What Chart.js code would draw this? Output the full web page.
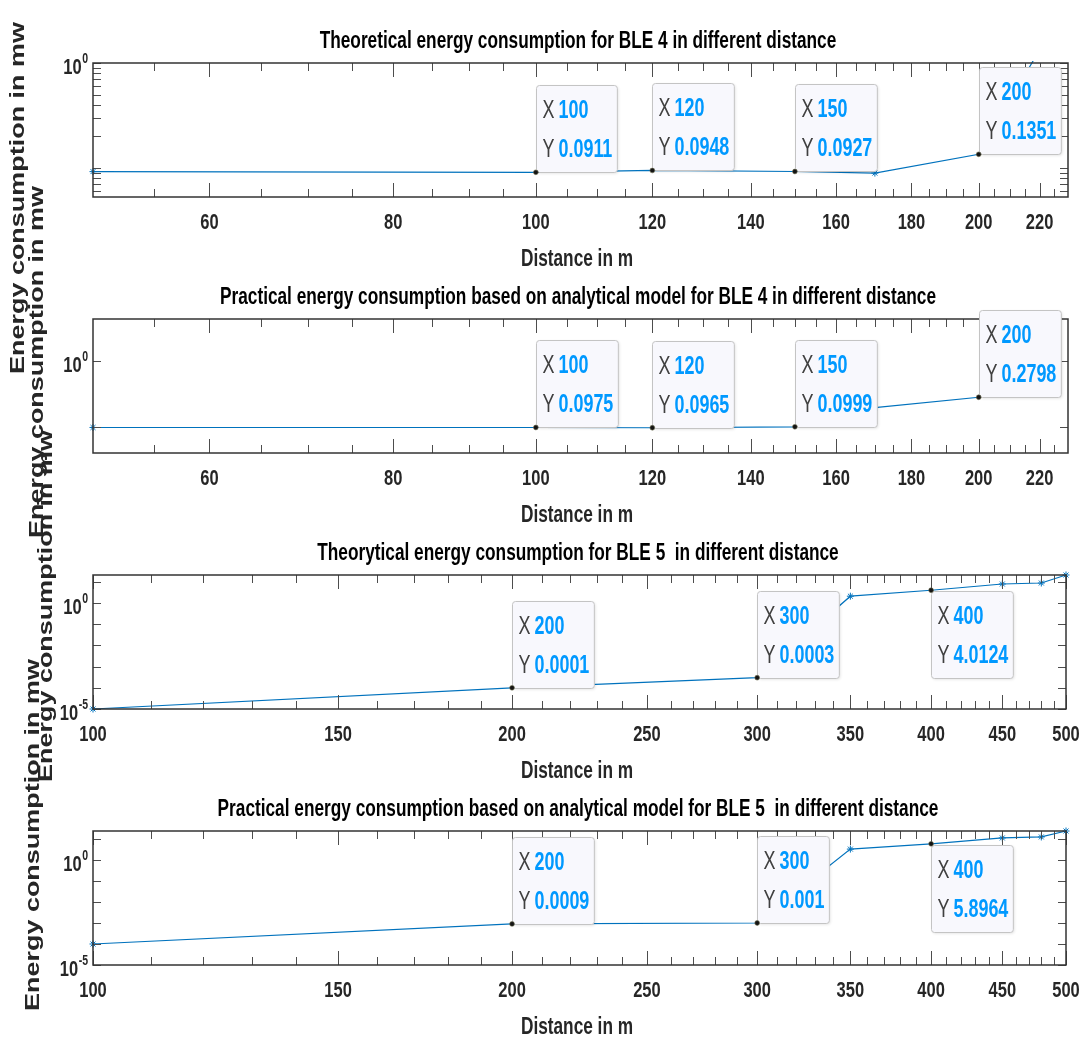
<!DOCTYPE html>
<html>
<head>
<meta charset="utf-8">
<title>BLE energy consumption versus distance</title>
<script src="https://cdn.jsdelivr.net/npm/chart.js@4.4.1/dist/chart.umd.min.js"></script>
<style>
  html, body { margin: 0; padding: 0; background: #ffffff; }
  #figure { position: relative; width: 1083px; height: 1040px; overflow: hidden; background: #ffffff; }
  #figure canvas { position: absolute; left: 0; top: 0; }
</style>
</head>
<body>
<div id="figure">
  <canvas id="ble4Theory" width="1083" height="1040"></canvas>
  <canvas id="ble4Practical" width="1083" height="1040"></canvas>
  <canvas id="ble5Theory" width="1083" height="1040"></canvas>
  <canvas id="ble5Practical" width="1083" height="1040"></canvas>
</div>
<script>
// ---------------- data ----------------
const BLE4_DISTANCE = [50, 100, 120, 150, 170, 200, 230];
const BLE4_THEORY = [0.0925, 0.0911, 0.0948, 0.0927, 0.0895, 0.1351, 3.9];
const BLE4_PRACTICAL = [0.0975, 0.0975, 0.0965, 0.0999, 0.195, 0.2798, 8];

const BLE5_DISTANCE = [100, 200, 300, 350, 400, 450, 480, 500];
const BLE5_THEORY = [0.00001, 0.0001, 0.0003, 2.1, 4.0124, 7.9, 8.8, 21];
const BLE5_PRACTICAL = [0.0001, 0.0009, 0.001, 3.3, 5.8964, 11.2, 12.5, 24];

const BLE4_X_TICKS = [60, 80, 100, 120, 140, 160, 180, 200, 220];
const BLE5_X_TICKS = [100, 150, 200, 250, 300, 350, 400, 450, 500];

// indices of the points carrying a data tip
const BLE4_TIPS = [1, 2, 3, 5];
const BLE5_TIPS = [1, 2, 4];
const BLE5_TIPS_BELOW = [4];

const TITLES = [
  'Theoretical energy consumption for BLE 4 in different distance',
  'Practical energy consumption based on analytical model for BLE 4 in different distance',
  'Theorytical energy consumption for BLE 5  in different distance',
  'Practical energy consumption based on analytical model for BLE 5  in different distance'
];
const X_LABEL = 'Distance in m';
const Y_LABEL = 'Energy consumption in mw';

// ---------------- styling helpers ----------------
const FONT = '"Liberation Sans", Arial, Helvetica, sans-serif';
const SQUEEZE = 0.75;
const TIP_SQUEEZE = 0.69;
const AXIS_COLOR = '#262626';
const LINE_COLOR = '#0072BD';

function drawText(ctx, str, x, y, o) {
  const size = o.size || 21, weight = o.weight || 'bold';
  const color = o.color || AXIS_COLOR, align = o.align || 'center';
  const sx = o.sx || SQUEEZE;
  ctx.save();
  ctx.font = weight + ' ' + size + 'px ' + FONT;
  ctx.fillStyle = color;
  ctx.textBaseline = 'middle';
  ctx.textAlign = 'left';
  const w = ctx.measureText(str).width * sx;
  const x0 = align === 'center' ? x - w / 2 : (align === 'right' ? x - w : x);
  ctx.translate(x0, y);
  ctx.scale(sx, 1);
  ctx.fillText(str, 0, 0);
  ctx.restore();
  return w;
}
function measure(ctx, str, size, weight, sx) {
  ctx.save();
  ctx.font = weight + ' ' + size + 'px ' + FONT;
  const w = ctx.measureText(str).width * (sx || SQUEEZE);
  ctx.restore();
  return w;
}
function fmtTip(v) { return String(Number(v.toFixed(4))); }

function minorX(min, max, step, majors) {
  const out = [];
  for (let v = Math.ceil(min / step) * step; v <= max + 1e-9; v += step) {
    if (!majors.includes(v) && v > min && v < max) out.push(v);
  }
  return out;
}
function mantissaTicks(min, max) {
  const out = [];
  for (let e = Math.floor(Math.log10(min)); e <= Math.ceil(Math.log10(max)); e++) {
    for (let m = 2; m <= 9; m++) {
      const v = m * Math.pow(10, e);
      if (v > min && v < max) out.push(v);
    }
  }
  return out;
}
function decadeTicks(min, max) {
  const out = [];
  for (let e = Math.ceil(Math.log10(min) - 1e-9); e <= Math.floor(Math.log10(max) + 1e-9); e++) out.push(Math.pow(10, e));
  return out;
}

// ---------------- panels ----------------
const panels = [
  { canvas: 'ble4Theory', title: TITLES[0], xs: BLE4_DISTANCE, ys: BLE4_THEORY,
    tips: BLE4_TIPS, tipsBelow: [], box: { l: 93, t: 63, r: 1068, b: 197 },
    xMin: 50, xMax: 230, yMin: 0.053, yMax: 1, xTicks: BLE4_X_TICKS, xMinorStep: 5,
    yTickValues: 'mantissa', yLabelValues: [1], clipTop: 2, ylab: { x: 18, y: 198 } },
  { canvas: 'ble4Practical', title: TITLES[1], xs: BLE4_DISTANCE, ys: BLE4_PRACTICAL,
    tips: BLE4_TIPS, tipsBelow: [], box: { l: 93, t: 319, r: 1068, b: 453 },
    xMin: 50, xMax: 230, yMin: 0.04, yMax: 4.3, xTicks: BLE4_X_TICKS, xMinorStep: 5,
    yTickValues: 'decade', yLabelValues: [1], clipTop: 2, ylab: { x: 37, y: 362 } },
  { canvas: 'ble5Theory', title: TITLES[2], xs: BLE5_DISTANCE, ys: BLE5_THEORY,
    tips: BLE5_TIPS, tipsBelow: BLE5_TIPS_BELOW, box: { l: 93, t: 575, r: 1066, b: 709 },
    xMin: 100, xMax: 500, yMin: 1e-5, yMax: 21, xTicks: BLE5_X_TICKS, xMinorStep: 10,
    yTickValues: 'decade', yLabelValues: [1, 1e-5], clipTop: 6, ylab: { x: 46, y: 606 } },
  { canvas: 'ble5Practical', title: TITLES[3], xs: BLE5_DISTANCE, ys: BLE5_PRACTICAL,
    tips: BLE5_TIPS, tipsBelow: BLE5_TIPS_BELOW, box: { l: 93, t: 831, r: 1066, b: 965 },
    xMin: 100, xMax: 500, yMin: 1e-5, yMax: 24, xTicks: BLE5_X_TICKS, xMinorStep: 10,
    yTickValues: 'decade', yLabelValues: [1, 1e-5], clipTop: 6, ylab: { x: 33, y: 835 } }
];

function drawFrame(chart, p) {
  const ctx = chart.ctx, a = chart.chartArea, xs = chart.scales.x, ys = chart.scales.y;
  const L = a.left, R = a.right, T = a.top, B = a.bottom;
  ctx.save();
  // tick marks pointing inward on all four sides
  ctx.strokeStyle = '#4d4d4d';
  ctx.lineWidth = 1;
  ctx.beginPath();
  const xMinor = minorX(p.xMin, p.xMax, p.xMinorStep, p.xTicks);
  const vTick = (v, len) => {
    const px = Math.round(xs.getPixelForValue(v)) + 0.5;
    ctx.moveTo(px, B); ctx.lineTo(px, B - len);
    ctx.moveTo(px, T); ctx.lineTo(px, T + len);
  };
  p.xTicks.forEach(v => vTick(v, 14));
  xMinor.forEach(v => vTick(v, 8));
  const yVals = p.yTickValues === 'mantissa'
    ? decadeTicks(p.yMin, p.yMax).concat(mantissaTicks(p.yMin, p.yMax))
    : decadeTicks(p.yMin, p.yMax);
  yVals.forEach(v => {
    const py = Math.round(ys.getPixelForValue(v)) + 0.5;
    ctx.moveTo(L, py); ctx.lineTo(L + 8, py);
    ctx.moveTo(R, py); ctx.lineTo(R - 8, py);
  });
  ctx.stroke();
  // axes box
  ctx.strokeStyle = '#333333';
  ctx.lineWidth = 1.5;
  ctx.strokeRect(L, T, R - L, B - T);
  ctx.restore();
}

function drawTip(chart, p, i) {
  const ctx = chart.ctx, xs = chart.scales.x, ys = chart.scales.y;
  const px = xs.getPixelForValue(p.xs[i]);
  const py = ys.getPixelForValue(p.ys[i]);
  const rows = [['X', fmtTip(p.xs[i])], ['Y', fmtTip(p.ys[i])]];
  const size = 26;
  const widths = rows.map(r => measure(ctx, r[0], size, 'normal', TIP_SQUEEZE) + 4 + measure(ctx, r[1], size, 'bold', TIP_SQUEEZE));
  const w = 6 + Math.max.apply(null, widths) + 5;
  const h = 87;
  const below = p.tipsBelow.includes(i);
  const left = Math.round(px) + 0.5;
  const top = below ? Math.round(py) + 1.5 : Math.round(py) - h + 0.5;
  ctx.save();
  ctx.shadowColor = 'rgba(0,0,0,0.12)';
  ctx.shadowBlur = 3;
  ctx.shadowOffsetX = 1;
  ctx.shadowOffsetY = 1;
  ctx.fillStyle = '#f8f8fd';
  ctx.beginPath();
  if (ctx.roundRect) ctx.roundRect(left, top, w, h, 3); else ctx.rect(left, top, w, h);
  ctx.fill();
  ctx.shadowColor = 'transparent';
  ctx.strokeStyle = '#c4c4c4';
  ctx.lineWidth = 1;
  ctx.stroke();
  ctx.restore();
  rows.forEach((r, k) => {
    const cy = top + (k === 0 ? 25 : 64);
    const lw = drawText(ctx, r[0], left + 6, cy, { size: size, weight: 'normal', color: '#404040', align: 'left', sx: TIP_SQUEEZE });
    drawText(ctx, r[1], left + 6 + lw + 4, cy, { size: size, weight: 'bold', color: '#0099ff', align: 'left', sx: TIP_SQUEEZE });
  });
}

function drawLabels(chart, p) {
  const ctx = chart.ctx, a = chart.chartArea, xs = chart.scales.x, ys = chart.scales.y;
  const cx = 578;
  // title
  drawText(ctx, p.title, cx, a.top - 21, { size: 23, weight: 'bold', color: '#000000' });
  // x tick labels
  p.xTicks.forEach(v => {
    drawText(ctx, String(v), xs.getPixelForValue(v), a.bottom + 26, { size: 22, weight: 'bold' });
  });
  // x axis label
  drawText(ctx, X_LABEL, cx - 1, a.bottom + 63, { size: 23, weight: 'bold' });
  // y tick labels as powers of ten
  p.yLabelValues.forEach(v => {
    const py = ys.getPixelForValue(v);
    const exp = String(Math.round(Math.log10(v)));
    const wSup = measure(ctx, exp, 14, 'bold');
    const right = a.left - 5;
    drawText(ctx, exp, right, py - 4, { size: 14, weight: 'bold', align: 'right' });
    drawText(ctx, '10', right - wSup - 0.5, py + 5, { size: 22, weight: 'bold', align: 'right' });
  });
  // rotated y axis label
  ctx.save();
  ctx.font = 'bold 20px ' + FONT;
  const tw = ctx.measureText(Y_LABEL).width;
  ctx.translate(p.ylab.x, p.ylab.y);
  ctx.rotate(-Math.PI / 2);
  ctx.scale(352 / tw, 1);
  ctx.fillStyle = AXIS_COLOR;
  ctx.textAlign = 'center';
  ctx.textBaseline = 'middle';
  ctx.fillText(Y_LABEL, 0, 0);
  ctx.restore();
}

panels.forEach(p => {
  const axesPlugin = {
    id: 'axesDecor',
    afterDatasetDraw(chart, args) {
      if (args.index !== 0) return;
      drawFrame(chart, p);
      p.tips.forEach(i => drawTip(chart, p, i));
    },
    afterDraw(chart) { drawLabels(chart, p); }
  };
  new Chart(document.getElementById(p.canvas), {
    type: 'line',
    data: {
      datasets: [
        {
          data: p.xs.map((v, i) => ({ x: v, y: p.ys[i] })),
          borderColor: LINE_COLOR,
          borderWidth: 1.2,
          tension: 0,
          fill: false,
          pointStyle: 'star',
          pointRadius: c => (p.tips.includes(c.dataIndex) ? 0 : 3.5),
          pointHoverRadius: 0,
          pointBorderColor: LINE_COLOR,
          pointBackgroundColor: LINE_COLOR,
          pointBorderWidth: 1,
          order: 2,
          clip: { left: 6, right: 6, top: p.clipTop, bottom: 6 }
        },
        {
          data: p.tips.map(i => ({ x: p.xs[i], y: p.ys[i] })),
          showLine: false,
          pointStyle: 'circle',
          pointRadius: 2.4,
          pointHoverRadius: 0,
          pointBackgroundColor: '#141414',
          pointBorderColor: '#6e6e50',
          pointBorderWidth: 0.6,
          order: 1,
          clip: 8
        }
      ]
    },
    options: {
      responsive: false,
      animation: false,
      devicePixelRatio: 1,
      events: [],
      layout: { padding: { left: p.box.l, top: p.box.t, right: 1083 - p.box.r, bottom: 1040 - p.box.b } },
      plugins: { legend: { display: false }, tooltip: { enabled: false }, title: { display: false } },
      scales: {
        x: { type: 'logarithmic', min: p.xMin, max: p.xMax, bounds: 'data', display: false },
        y: { type: 'logarithmic', min: p.yMin, max: p.yMax, bounds: 'data', display: false }
      }
    },
    plugins: [axesPlugin]
  });
});
</script>
</body>
</html>
